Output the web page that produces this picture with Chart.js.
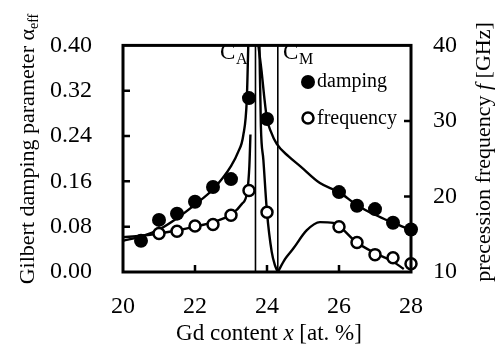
<!DOCTYPE html>
<html>
<head>
<meta charset="utf-8">
<script src="https://cdn.jsdelivr.net/npm/chart.js@4.4.1/dist/chart.umd.min.js"></script>
<style>
body { margin: 0; background: #fff; }
</style>
</head>
<body>
<canvas id="chart" width="504" height="346"></canvas>
<script>
// measured points
var dampX = [20.5, 21, 21.5, 22, 22.5, 23, 23.5, 24, 26, 26.5, 27, 27.5, 28];
var dampY = [0.055, 0.092, 0.103, 0.124, 0.150, 0.164, 0.307, 0.270, 0.141, 0.117, 0.111, 0.087, 0.075];
var freqX = [21, 21.5, 22, 22.5, 23, 23.5, 24, 26, 26.5, 27, 27.5, 28];
var freqY = [15.1, 15.4, 16.1, 16.3, 17.5, 20.8, 17.9, 16.0, 13.9, 12.3, 11.9, 11.1];

// fit curves
var dampFitLX = [20, 20.5, 21, 21.5, 22, 22.5, 23, 23.2, 23.34, 23.44, 23.48];
var dampFitLY = [0.055, 0.063, 0.075, 0.095, 0.119, 0.146, 0.187, 0.212, 0.241, 0.306, 0.40];
var dampFitRX = [23.76, 23.85, 23.92, 24.0, 24.1, 24.27, 24.6, 24.92, 25.47, 26.0, 26.5, 27.0, 27.5, 28.0];
var dampFitRY = [0.40, 0.354, 0.311, 0.270, 0.249, 0.226, 0.204, 0.187, 0.157, 0.141, 0.118, 0.101, 0.087, 0.074];
var freqFitLX = [20, 20.5, 21, 21.5, 22, 22.5, 23, 23.3, 23.45, 23.51, 23.54];
var freqFitLY = [14.6, 14.8, 15.1, 15.5, 16.0, 16.6, 17.6, 19.0, 20.6, 24.0, 28.2];
var freqFitR1X = [23.79, 23.83, 23.9, 24.0, 24.13, 24.22, 24.3];
var freqFitR1Y = [40, 29.3, 24.8, 17.9, 12.7, 10.9, 10.0];
var freqFitR2X = [24.3, 24.5, 24.73, 25.1, 25.47, 25.84, 26.0, 26.47, 27.0, 27.46, 27.8];
var freqFitR2Y = [10.0, 11.7, 13.1, 15.5, 16.6, 16.5, 16.1, 14.0, 12.5, 11.5, 10.4];

var caX = 23.68;
var cmX = 24.30;

var xTicks = [20, 22, 24, 26, 28];
var leftTicks = [0, 0.08, 0.16, 0.24, 0.32, 0.40];
var leftTickLabels = ['0.00', '0.08', '0.16', '0.24', '0.32', '0.40'];
var rightTicks = [10, 20, 30, 40];

var serif = 'Liberation Serif';
Chart.defaults.font.family = serif;
Chart.defaults.color = '#000';

function pts(xs, ys) {
	return xs.map(function(x, i) { return { x: x, y: ys[i] }; });
}

function fitLine(xs, ys, axis) {
	return {
		data: pts(xs, ys),
		yAxisID: axis,
		showLine: true,
		borderColor: '#000',
		borderWidth: 2.4,
		pointRadius: 0,
		cubicInterpolationMode: 'monotone',
		fill: false
	};
}

function vLine(x) {
	return {
		data: [{ x: x, y: 0 }, { x: x, y: 0.4 }],
		yAxisID: 'y',
		showLine: true,
		borderColor: '#000',
		borderWidth: 1.6,
		pointRadius: 0,
		fill: false
	};
}

// draw a row of text pieces centred on (cx, cy), optionally rotated
function drawRuns(ctx, runs, cx, cy, rot) {
	var total = 0;
	runs.forEach(function(r) {
		ctx.font = r.font;
		r.w = ctx.measureText(r.t).width;
		total += r.w;
	});
	ctx.save();
	ctx.translate(cx, cy);
	ctx.rotate(rot || 0);
	ctx.fillStyle = '#000';
	ctx.textBaseline = 'alphabetic';
	ctx.textAlign = 'left';
	var x = -total / 2;
	runs.forEach(function(r) {
		ctx.font = r.font;
		ctx.fillText(r.t, x, r.dy || 0);
		x += r.w;
	});
	ctx.restore();
}

var decor = {
	id: 'decor',
	afterDraw: function(chart) {
		var ctx = chart.ctx;
		var a = chart.chartArea;
		var sx = chart.scales.x, sy = chart.scales.y, sy2 = chart.scales.y2;

		ctx.save();
		ctx.strokeStyle = '#000';
		ctx.lineWidth = 3;
		ctx.strokeRect(a.left, a.top, a.right - a.left, a.bottom - a.top);

		// inner ticks
		ctx.lineWidth = 2.5;
		ctx.beginPath();
		leftTicks.slice(1, -1).forEach(function(v) {
			var p = sy.getPixelForValue(v);
			ctx.moveTo(a.left, p); ctx.lineTo(a.left + 7, p);
		});
		rightTicks.slice(1, -1).forEach(function(v) {
			var p = sy2.getPixelForValue(v);
			ctx.moveTo(a.right, p); ctx.lineTo(a.right - 7, p);
		});
		xTicks.slice(1, -1).forEach(function(v) {
			var p = sx.getPixelForValue(v);
			ctx.moveTo(p, a.bottom); ctx.lineTo(p, a.bottom - 7);
		});
		ctx.stroke();

		// legend
		ctx.fillStyle = '#000';
		ctx.beginPath();
		ctx.arc(308, 82, 7, 0, Math.PI * 2);
		ctx.fill();
		ctx.beginPath();
		ctx.arc(308, 118, 5.5, 0, Math.PI * 2);
		ctx.fillStyle = '#fff';
		ctx.fill();
		ctx.lineWidth = 2.5;
		ctx.stroke();
		ctx.fillStyle = '#000';
		ctx.font = '20px ' + serif;
		ctx.textBaseline = 'middle';
		ctx.fillText('damping', 317, 82);
		ctx.fillText('frequency', 317, 119);

		// C_A, C_M labels
		ctx.textBaseline = 'alphabetic';
		ctx.font = '23px ' + serif;
		ctx.fillText('C', 220, 59);
		ctx.fillText('C', 283, 59);
		ctx.font = '16px ' + serif;
		ctx.fillText('A', 236, 64);
		ctx.fillText('M', 299, 64);
		ctx.restore();

		// axis titles
		drawRuns(ctx, [
			{ t: 'Gilbert damping parameter \u03b1', font: '22px ' + serif },
			{ t: 'eff', font: '14px ' + serif, dy: 4 }
		], 34, 149, -Math.PI / 2);
		drawRuns(ctx, [
			{ t: 'precession frequency ', font: '22px ' + serif },
			{ t: 'f', font: 'italic 22px ' + serif },
			{ t: ' [GHz]', font: '22px ' + serif }
		], 490, 152, -Math.PI / 2);
		drawRuns(ctx, [
			{ t: 'Gd content ', font: '23px ' + serif },
			{ t: 'x', font: 'italic 23px ' + serif },
			{ t: ' [at. %]', font: '23px ' + serif }
		], 269, 340, 0);
	}
};

new Chart(document.getElementById('chart'), {
	type: 'scatter',
	data: {
		datasets: [
			{
				data: pts(dampX, dampY),
				yAxisID: 'y',
				pointRadius: 7,
				pointBackgroundColor: '#000',
				pointBorderColor: '#000',
				pointBorderWidth: 0,
				clip: false
			},
			{
				data: pts(freqX, freqY),
				yAxisID: 'y2',
				pointRadius: 5.5,
				pointBackgroundColor: '#fff',
				pointBorderColor: '#000',
				pointBorderWidth: 2.5,
				clip: false
			},
			fitLine(dampFitLX, dampFitLY, 'y'),
			fitLine(dampFitRX, dampFitRY, 'y'),
			fitLine(freqFitLX, freqFitLY, 'y2'),
			fitLine(freqFitR1X, freqFitR1Y, 'y2'),
			fitLine(freqFitR2X, freqFitR2Y, 'y2'),
			vLine(caX),
			vLine(cmX)
		]
	},
	options: {
		responsive: false,
		animation: false,
		devicePixelRatio: 1,
		layout: { padding: { top: 25, left: 0, right: 0, bottom: 0 } },
		plugins: {
			legend: { display: false },
			tooltip: { enabled: false }
		},
		scales: {
			x: {
				type: 'linear',
				position: 'bottom',
				min: 20,
				max: 28,
				grid: { display: false, drawTicks: false },
				border: { display: false },
				afterBuildTicks: function(s) { s.ticks = xTicks.map(function(v) { return { value: v }; }); },
				afterFit: function(s) { s.height = 74; },
				ticks: { color: '#000', padding: 20, font: { family: serif, size: 24 } }
			},
			y: {
				type: 'linear',
				position: 'left',
				min: 0,
				max: 0.4,
				grid: { display: false, drawTicks: false },
				border: { display: false },
				afterBuildTicks: function(s) { s.ticks = leftTicks.map(function(v) { return { value: v }; }); },
				afterFit: function(s) { s.width = 123; },
				ticks: {
					color: '#000',
					padding: 31,
					font: { family: serif, size: 24 },
					callback: function(v, i) { return leftTickLabels[i]; }
				}
			},
			y2: {
				type: 'linear',
				position: 'right',
				min: 10,
				max: 40,
				grid: { display: false, drawTicks: false },
				border: { display: false },
				afterBuildTicks: function(s) { s.ticks = rightTicks.map(function(v) { return { value: v }; }); },
				afterFit: function(s) { s.width = 93; },
				ticks: { color: '#000', padding: 22, font: { family: serif, size: 24 } }
			}
		}
	},
	plugins: [decor]
});
</script>
</body>
</html>
